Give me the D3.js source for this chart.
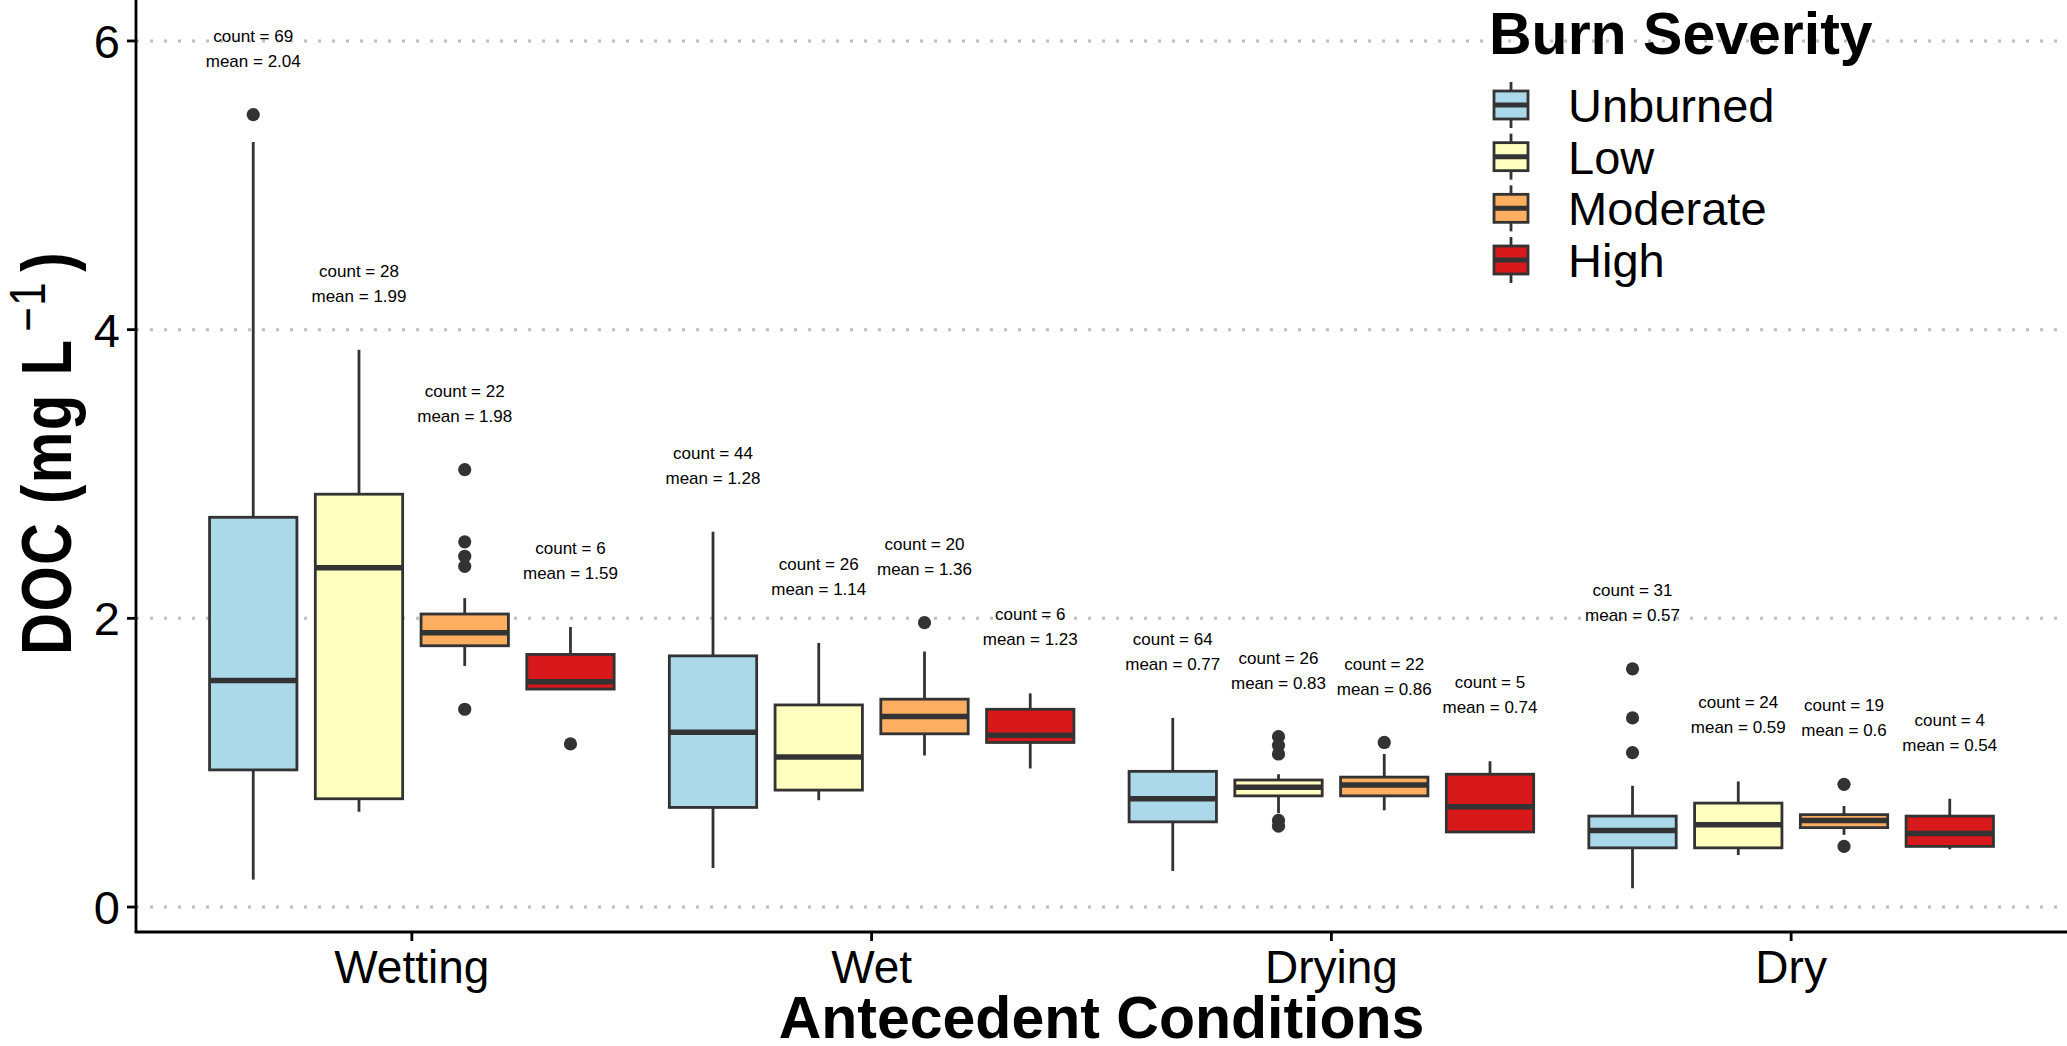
<!DOCTYPE html>
<html><head><meta charset="utf-8">
<script src="https://cdn.jsdelivr.net/npm/d3@7/dist/d3.min.js"></script>
<style>body{margin:0;background:#fff}svg{display:block;font-family:"Liberation Sans",Arial,sans-serif}</style>
</head><body><svg id="c" width="2067" height="1046"></svg>
<script>
const conditions = ["Wetting","Wet","Drying","Dry"];
const severities = ["Unburned","Low","Moderate","High"];
const fills = ["#ABD9E9","#FFFFBF","#FDAE61","#D7191C"];
const yTicks = [0,2,4,6];
// stats indexed [condition][severity]
const lowerWhisker = [[0.19,0.66,1.67,1.51],[0.27,0.74,1.05,0.96],[0.25,0.65,0.67,0.52],[0.13,0.36,0.50,0.40]];
const q1 = [[0.95,0.75,1.81,1.51],[0.69,0.81,1.20,1.14],[0.59,0.77,0.77,0.52],[0.41,0.41,0.55,0.42]];
const medians = [[1.57,2.35,1.90,1.56],[1.21,1.04,1.32,1.19],[0.75,0.83,0.845,0.695],[0.53,0.57,0.60,0.51]];
const q3 = [[2.70,2.86,2.03,1.75],[1.74,1.40,1.44,1.37],[0.94,0.88,0.90,0.92],[0.63,0.72,0.64,0.63]];
const upperWhisker = [[5.30,3.86,2.14,1.94],[2.60,1.83,1.77,1.48],[1.31,0.92,1.06,1.01],[0.84,0.87,0.70,0.75]];
const outliers = [
  [[5.49],[],[3.03,2.53,2.43,2.36,1.37],[1.13]],
  [[],[],[1.97],[]],
  [[],[1.18,1.12,1.06,0.60,0.56],[1.14],[]],
  [[1.65,1.31,1.07],[],[0.85,0.42],[]]
];
const counts = [[69,28,22,6],[44,26,20,6],[64,26,22,5],[31,24,19,4]];
const means = [["2.04","1.99","1.98","1.59"],["1.28","1.14","1.36","1.23"],["0.77","0.83","0.86","0.74"],["0.57","0.59","0.6","0.54"]];

(function(){
const pL=136,pR=2067,pT=0,pB=932;
const svg=d3.select("#c");
const xi=d3.scaleLinear().domain([0.4,4.6]).range([pL,pR]);
const xc=c=>xi(conditions.indexOf(c)+1);
const dodge=d3.scaleBand().domain(severities).range([-0.46,0.46]);
const y=d3.scaleLinear().domain([-0.1730,6.2837]).range([pB,pT]);
const unit=xi(1)-xi(0);
const boxW=0.19*unit;

svg.append("g").selectAll("line").data(yTicks).join("line")
  .attr("x1",pL).attr("x2",pR).attr("y1",d=>y(d)).attr("y2",d=>y(d))
  .attr("stroke","#BEBEBE").attr("stroke-width",3).attr("stroke-dasharray","3,11");

const boxes=[];
conditions.forEach((c,ci)=>severities.forEach((s,si)=>{
  boxes.push({c,s,ci,si,cx:xc(c)+(dodge(s)+dodge.bandwidth()/2)*unit});
}));
const g=svg.append("g");
boxes.forEach(b=>{
  const {ci,si,cx}=b;
  const gg=g.append("g");
  gg.append("line").attr("x1",cx).attr("x2",cx).attr("y1",y(q3[ci][si])).attr("y2",y(upperWhisker[ci][si])).attr("stroke","#333").attr("stroke-width",2.8);
  gg.append("line").attr("x1",cx).attr("x2",cx).attr("y1",y(q1[ci][si])).attr("y2",y(lowerWhisker[ci][si])).attr("stroke","#333").attr("stroke-width",2.8);
  gg.append("rect").attr("x",cx-boxW/2).attr("width",boxW).attr("y",y(q3[ci][si])).attr("height",y(q1[ci][si])-y(q3[ci][si]))
    .attr("fill",fills[si]).attr("stroke","#333").attr("stroke-width",2.8);
  gg.append("line").attr("x1",cx-boxW/2).attr("x2",cx+boxW/2).attr("y1",y(medians[ci][si])).attr("y2",y(medians[ci][si])).attr("stroke","#333").attr("stroke-width",5.5);
  gg.selectAll("circle").data(outliers[ci][si]).join("circle").attr("cx",cx).attr("cy",d=>y(d)).attr("r",6.6).attr("fill","#333");
  const mx=d3.max([upperWhisker[ci][si],...outliers[ci][si]]);
  const cy=y(mx+0.46);
  const t=gg.append("text").attr("text-anchor","middle").attr("font-size",17).attr("fill","#000");
  t.append("tspan").attr("x",cx).attr("y",cy-12.5).attr("dy","0.35em").text(`count = ${counts[ci][si]}`);
  t.append("tspan").attr("x",cx).attr("y",cy+12.5).attr("dy","0.35em").text(`mean = ${means[ci][si]}`);
});

svg.append("line").attr("x1",pL).attr("x2",pL).attr("y1",pT).attr("y2",pB).attr("stroke","#000").attr("stroke-width",2.8);
svg.append("line").attr("x1",pL-1.4).attr("x2",pR).attr("y1",pB).attr("y2",pB).attr("stroke","#000").attr("stroke-width",2.8);
const ya=svg.append("g");
yTicks.forEach(t=>{
  ya.append("line").attr("x1",pL-9).attr("x2",pL).attr("y1",y(t)).attr("y2",y(t)).attr("stroke","#000").attr("stroke-width",2.8);
  ya.append("text").attr("x",pL-16).attr("y",y(t)).attr("dy","0.36em").attr("text-anchor","end").attr("font-size",47).text(t);
});
conditions.forEach(c=>{
  svg.append("line").attr("x1",xc(c)).attr("x2",xc(c)).attr("y1",pB).attr("y2",pB+9).attr("stroke","#000").attr("stroke-width",2.8);
  svg.append("text").attr("x",xc(c)).attr("y",983).attr("text-anchor","middle").attr("font-size",46).text(c);
});
svg.append("text").attr("x",(pL+pR)/2).attr("y",1038).attr("text-anchor","middle").attr("font-size",59).attr("font-weight","bold").text("Antecedent Conditions");
const yt=svg.append("text").attr("transform","translate(71,453) rotate(-90) scale(1,1.2)").attr("text-anchor","middle")
  .attr("font-size",58).attr("font-weight","bold").attr("letter-spacing",1.5);
yt.append("tspan").text("DOC (mg L");
yt.append("tspan").attr("font-weight","normal").attr("font-size",42).attr("dx",7).attr("dy",-22).text("\u22121");
yt.append("tspan").attr("dx",9).attr("dy",22).text(")");

const lg=svg.append("g");
lg.append("text").attr("x",1489).attr("y",54).attr("font-size",59).attr("font-weight","bold").text("Burn Severity");
const ly=d3.scalePoint().domain(severities).range([105,260]);
const kx=1511,kw=34,kh=28;
severities.forEach((s,i)=>{
  const cy=ly(s);
  lg.append("line").attr("x1",kx).attr("x2",kx).attr("y1",cy-23).attr("y2",cy+23).attr("stroke","#333").attr("stroke-width",2.8);
  lg.append("rect").attr("x",kx-kw/2).attr("y",cy-kh/2).attr("width",kw).attr("height",kh).attr("fill",fills[i]).attr("stroke","#333").attr("stroke-width",2.8);
  lg.append("line").attr("x1",kx-kw/2).attr("x2",kx+kw/2).attr("y1",cy).attr("y2",cy).attr("stroke","#333").attr("stroke-width",5);
  lg.append("text").attr("x",1568).attr("y",cy).attr("dy","0.36em").attr("font-size",47).text(s);
});
})();
</script></body></html>
